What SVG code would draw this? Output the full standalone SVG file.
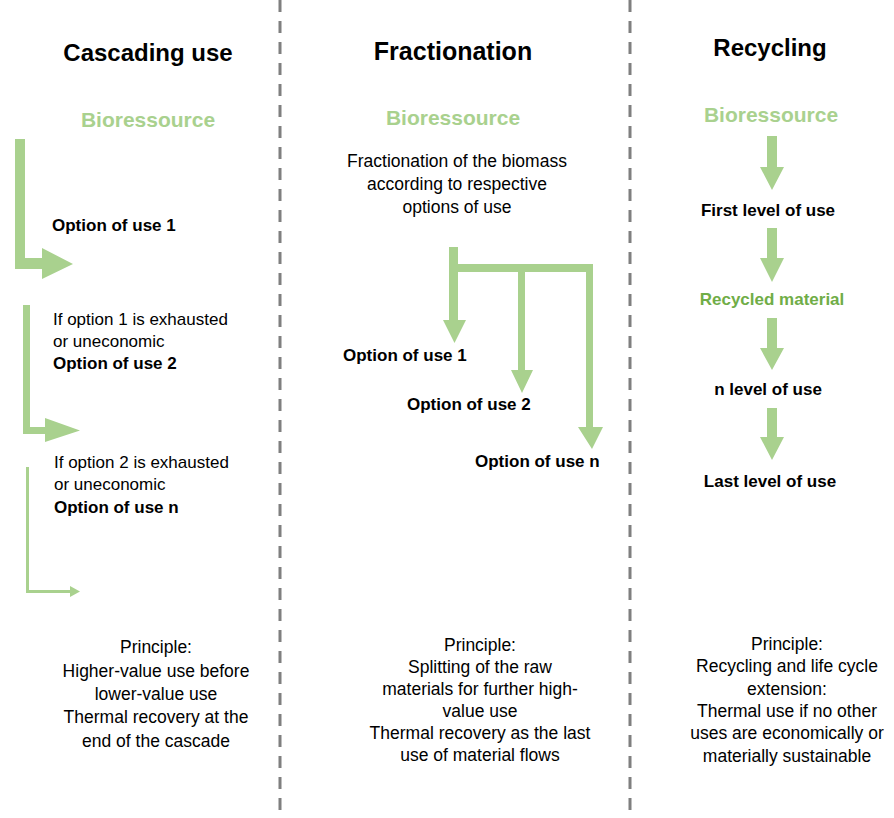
<svg xmlns="http://www.w3.org/2000/svg" width="894" height="818" viewBox="0 0 894 818">
<style>
text{font-family:"Liberation Sans",Arial,sans-serif;fill:#000}
.title{font-size:24px;font-weight:bold;text-anchor:middle}
.bio{font-size:21px;font-weight:bold;fill:#a9d18e;text-anchor:middle}
.opt{font-size:17px;font-weight:bold}
.note{font-size:17px}
.princ{font-size:17.5px;text-anchor:middle}
.mid{text-anchor:middle}
.rec{fill:#70ad47}
.arrow{fill:#a9d18e;stroke:none}
.divider{stroke:#7f7f7f;stroke-width:3;stroke-dasharray:12 9;fill:none}
</style>
<rect width="894" height="818" fill="#ffffff"/>
<g id="dividers">
<line class="divider" x1="280" y1="0" x2="280" y2="818"/>
<line class="divider" x1="630" y1="0" x2="630" y2="818"/>
</g>
<g id="titles">
<text class="title" x="148" y="61">Cascading use</text>
<text class="title" x="453" y="60" style="font-size:25px">Fractionation</text>
<text class="title" x="770" y="56">Recycling</text>
</g>
<g id="connectors">
<path class="arrow" d="M15,139 H25 V258 H42 V248 L73,264 L42,279 V269 H15 Z"/>
<path class="arrow" d="M23,305 H30 V427 H45 V418 L80,430.5 L45,442 V434 H23 Z"/>
<polyline points="27.5,467 27.5,591.5 71,591.5" fill="none" stroke="#a9d18e" stroke-width="3"/>
<polygon class="arrow" points="70,586 80,591.5 70,597"/>
<path class="arrow" d="M449,247 H458 V264 H593 V427 H603 L592,449 L578,427 H586 V272 H525 V370 H533 L522,393 L511,370 H518 V272 H458 V320 H466 L454.5,343 L443,320 H449 Z"/>
<path class="arrow" d="M767,136 H777 V167 H784 L772,190 L760,167 H767 Z"/>
<path class="arrow" d="M767,228 H777 V258 H784 L772,282 L760,258 H767 Z"/>
<path class="arrow" d="M767,318 H777 V348 H784 L772,370 L760,348 H767 Z"/>
<path class="arrow" d="M767,408 H777 V437 H784 L772,460 L760,437 H767 Z"/>
</g>
<g id="cascade-bioressource"><text class="bio" x="148" y="127">Bioressource</text></g>
<g id="cascade-option1"><text class="opt" x="52" y="231">Option of use 1</text></g>
<g id="cascade-option2">
<text class="note" x="53" y="325">If option 1 is exhausted</text>
<text class="note" x="53" y="347">or uneconomic</text>
<text class="opt" x="53" y="369">Option of use 2</text>
</g>
<g id="cascade-optionn">
<text class="note" x="54" y="468">If option 2 is exhausted</text>
<text class="note" x="54" y="490">or uneconomic</text>
<text class="opt" x="54" y="513">Option of use n</text>
</g>
<g id="cascade-principle">
<text class="princ" x="156" y="653">Principle:</text>
<text class="princ" x="156" y="677">Higher-value use before</text>
<text class="princ" x="156" y="700">lower-value use</text>
<text class="princ" x="156" y="723">Thermal recovery at the</text>
<text class="princ" x="156" y="747">end of the cascade</text>
</g>
<g id="fraction-bioressource"><text class="bio" x="453" y="125">Bioressource</text></g>
<g id="fraction-desc">
<text class="note mid" x="457" y="167" style="font-size:17.5px">Fractionation of the biomass</text>
<text class="note mid" x="457" y="190" style="font-size:17.5px">according to respective</text>
<text class="note mid" x="457" y="213" style="font-size:17.5px">options of use</text>
</g>
<g id="fraction-option1"><text class="opt" x="343" y="361">Option of use 1</text></g>
<g id="fraction-option2"><text class="opt" x="407" y="410">Option of use 2</text></g>
<g id="fraction-optionn"><text class="opt" x="475" y="467">Option of use n</text></g>
<g id="fraction-principle">
<text class="princ" x="480" y="651">Principle:</text>
<text class="princ" x="480" y="673">Splitting of the raw</text>
<text class="princ" x="480" y="695">materials for further high-</text>
<text class="princ" x="480" y="717">value use</text>
<text class="princ" x="480" y="739">Thermal recovery as the last</text>
<text class="princ" x="480" y="761">use of material flows</text>
</g>
<g id="recycle-bioressource"><text class="bio" x="771" y="122">Bioressource</text></g>
<g id="recycle-first"><text class="opt mid" x="768" y="216">First level of use</text></g>
<g id="recycle-material"><text class="opt mid rec" x="772" y="305">Recycled material</text></g>
<g id="recycle-n"><text class="opt mid" x="768" y="395">n level of use</text></g>
<g id="recycle-last"><text class="opt mid" x="770" y="487">Last level of use</text></g>
<g id="recycle-principle">
<text class="princ" x="787" y="650">Principle:</text>
<text class="princ" x="787" y="672">Recycling and life cycle</text>
<text class="princ" x="787" y="695">extension:</text>
<text class="princ" x="787" y="717">Thermal use if no other</text>
<text class="princ" x="787" y="739">uses are economically or</text>
<text class="princ" x="787" y="762">materially sustainable</text>
</g>
</svg>
